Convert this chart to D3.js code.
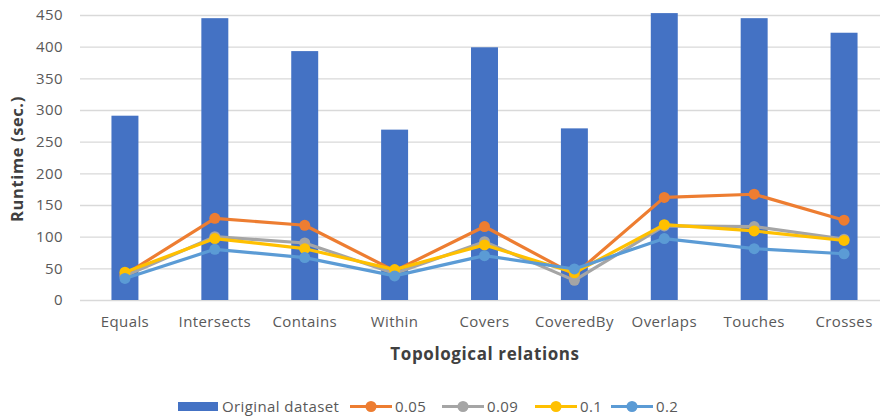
<!DOCTYPE html>
<html>
<head>
<meta charset="utf-8">
<script src="https://cdn.jsdelivr.net/npm/d3@7"></script>
<style>
  body { margin: 0; background: #fff; }
  svg { display: block; font-family: "Open Sans", Lato, sans-serif; }
</style>
</head>
<body>
<svg id="chart" width="888" height="418"></svg>
<script>
// Topological relation runtimes
const categories = ["Equals", "Intersects", "Contains", "Within", "Covers", "CoveredBy", "Overlaps", "Touches", "Crosses"];
const original = [291, 445, 393, 269, 399, 271, 453, 445, 422];
const s005 = [40, 129, 118, 46, 116, 40, 162, 167, 126];
const s009 = [38, 100, 90, 42, 92, 31, 117, 116, 96];
const s01 = [44, 97, 81, 48, 87, 43, 119, 109, 94];
const s02 = [34, 80, 67, 38, 70, 49, 97, 81, 73];
const yTicks = [0, 50, 100, 150, 200, 250, 300, 350, 400, 450];

const lineSeries = [
  { name: "0.05", values: s005, color: "#ED7D31" },
  { name: "0.09", values: s009, color: "#A5A5A5" },
  { name: "0.1", values: s01, color: "#FFC000" },
  { name: "0.2", values: s02, color: "#5B9BD5" }
];

const svg = d3.select("#chart");
const plotLeft = 80, plotRight = 889, plotTop = 15, plotBottom = 300;
const labelSize = 15, labelSpacing = 0.4;

const x = d3.scaleBand().domain(categories).range([plotLeft, plotRight]).paddingInner(0.7).paddingOuter(0.35);
const y = d3.scaleLinear().domain([0, 450]).range([plotBottom, plotTop]);

// gridlines and y labels
const yAxis = d3.axisLeft(y).tickValues(yTicks).tickSize(-(plotRight - plotLeft - 9)).tickPadding(17);
const gy = svg.append("g").attr("transform", `translate(${plotLeft},0)`).call(yAxis);
gy.select(".domain").remove();
gy.selectAll(".tick line").attr("stroke", "#d9d9d9").attr("stroke-width", 1.3);
gy.selectAll(".tick text").attr("fill", "#595959").attr("font-size", labelSize)
  .attr("font-family", "'Open Sans', sans-serif").attr("letter-spacing", labelSpacing);

// x labels
const xAxis = d3.axisBottom(x).tickSize(0).tickPadding(16);
const gx = svg.append("g").attr("transform", `translate(0,${plotBottom})`).call(xAxis);
gx.select(".domain").remove();
gx.selectAll(".tick text").attr("fill", "#595959").attr("font-size", labelSize)
  .attr("font-family", "'Open Sans', sans-serif").attr("letter-spacing", labelSpacing);

// bars
svg.append("g").selectAll("rect").data(original).join("rect")
  .attr("x", (d, i) => x(categories[i]))
  .attr("width", x.bandwidth())
  .attr("y", d => y(d))
  .attr("height", d => y(0) - y(d))
  .attr("fill", "#4472C4");

// lines with markers
const line = d3.line().x((d, i) => x(categories[i]) + x.bandwidth() / 2).y(d => y(d));
lineSeries.forEach(s => {
  const g = svg.append("g");
  g.append("path").attr("d", line(s.values)).attr("fill", "none")
    .attr("stroke", s.color).attr("stroke-width", 3.2).attr("stroke-linejoin", "round");
  g.selectAll("circle").data(s.values).join("circle")
    .attr("cx", (d, i) => x(categories[i]) + x.bandwidth() / 2)
    .attr("cy", d => y(d)).attr("r", 5.5).attr("fill", s.color);
});

// axis titles
svg.append("text").attr("x", 485).attr("y", 360).attr("text-anchor", "middle")
  .attr("font-size", 17).attr("font-weight", "bold").attr("fill", "#404040").attr("letter-spacing", 0.6)
  .text("Topological relations");
svg.append("text").attr("transform", "translate(23,159) rotate(-90)").attr("text-anchor", "middle")
  .attr("font-size", 16.5).attr("font-weight", "bold").attr("fill", "#404040").attr("letter-spacing", 0.6)
  .text("Runtime (sec.)");

// legend
const lg = svg.append("g").attr("font-size", labelSize).attr("letter-spacing", labelSpacing);
lg.append("rect").attr("x", 178).attr("y", 402).attr("width", 40).attr("height", 9).attr("fill", "#4472C4");
lg.append("text").attr("x", 222).attr("y", 412).attr("fill", "#595959").text("Original dataset");
const lx = [350, 442, 535, 611];
lineSeries.forEach((s, i) => {
  lg.append("line").attr("x1", lx[i]).attr("x2", lx[i] + 42).attr("y1", 406.5).attr("y2", 406.5)
    .attr("stroke", s.color).attr("stroke-width", 3.2);
  lg.append("circle").attr("cx", lx[i] + 21).attr("cy", 406.5).attr("r", 5.5).attr("fill", s.color);
  lg.append("text").attr("x", lx[i] + 45).attr("y", 412).attr("fill", "#595959").text(s.name);
});
</script>
</body>
</html>
